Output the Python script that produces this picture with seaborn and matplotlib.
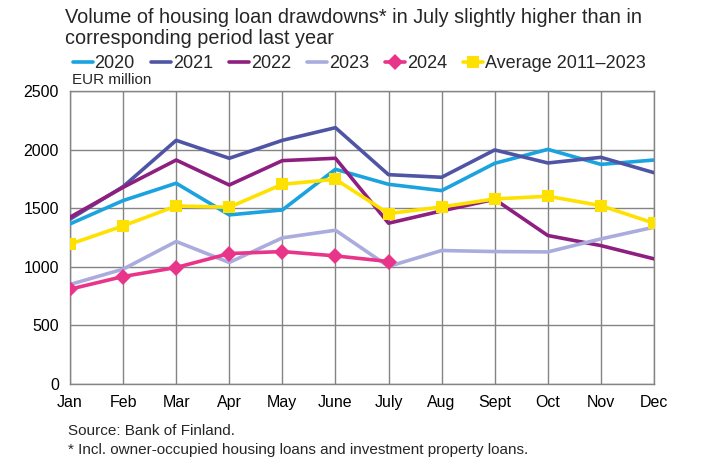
import numpy as np
import pandas as pd
import matplotlib.pyplot as plt
import seaborn as sns

MONTHS = ["Jan", "Feb", "Mar", "Apr", "May", "June", "July", "Aug", "Sept", "Oct", "Nov", "Dec"]

Y2020 = [1366, 1565, 1713, 1443, 1485, 1832, 1704, 1650, 1883, 2002, 1874, 1911]
Y2021 = [1406, 1684, 2079, 1926, 2079, 2187, 1786, 1764, 1997, 1886, 1934, 1803]
Y2022 = [1423, 1678, 1911, 1698, 1906, 1926, 1372, 1477, 1576, 1267, 1181, 1068]
Y2023 = [849, 980, 1216, 1037, 1247, 1312, 1003, 1139, 1130, 1127, 1238, 1338]
Y2024 = [809, 917, 994, 1113, 1130, 1093, 1045]
AVG = [1193, 1349, 1519, 1508, 1704, 1747, 1454, 1511, 1579, 1602, 1522, 1372]

YTICKS = [0, 500, 1000, 1500, 2000, 2500]

sns.set_theme(style="whitegrid")
plt.rcParams["font.family"] = ["Liberation Sans", "DejaVu Sans"]

series = [
    ("2020", Y2020, "#1AA3DF", None, 0),
    ("2021", Y2021, "#4F55A4", None, 0),
    ("2022", Y2022, "#8E1E80", None, 0),
    ("2023", Y2023, "#AAACDD", None, 0),
    ("2024", Y2024, "#E8358A", "D", 8),
    ("Average 2011\u20132023", AVG, "#FFE100", "s", 9),
]

fig = plt.figure(figsize=(7.2, 4.7), dpi=100)
ax = fig.add_axes([70 / 720, 1 - 384 / 470, (654 - 70) / 720, (384 - 91) / 470])

for name, vals, color, marker, ms in series:
    df = pd.DataFrame({"x": np.arange(len(vals)), "y": vals})
    sns.lineplot(data=df, x="x", y="y", ax=ax, color=color, linewidth=2.6,
                 marker=marker, markersize=ms, markeredgewidth=0,
                 label=name, zorder=3)

ax.set_xlim(0, 11)
ax.set_ylim(0, 2500)
ax.set_xticks(range(12))
ax.set_xticklabels(MONTHS, fontsize=11.5)
ax.set_yticks(YTICKS)
ax.set_yticklabels([str(v) for v in YTICKS], fontsize=11.5)
ax.set_xlabel("")
ax.set_ylabel("")
ax.tick_params(axis="both", length=0, pad=8, colors="black")
ax.grid(True, color="#848484", linewidth=1.0)
for s in ax.spines.values():
    s.set_color("#848484")
    s.set_linewidth(1.0)

ax.legend(loc="lower left", bbox_to_anchor=(0.005, 1.065), ncol=6, frameon=False,
          fontsize=13, handlelength=1.1, handletextpad=0.1, columnspacing=0.9,
          borderaxespad=0, borderpad=0)

fig.text(65 / 720, 1 - 28 / 470, "Volume of housing loan drawdowns* in July slightly higher than in\ncorresponding period last year",
         fontsize=14.3, va="center", ha="left", linespacing=1.15)
fig.text(72 / 720, 1 - 80 / 470, "EUR million", fontsize=11, va="center", ha="left")
fig.text(68 / 720, 1 - 431 / 470, "Source: Bank of Finland.", fontsize=11, va="center", ha="left")
fig.text(68 / 720, 1 - 450 / 470, "* Incl. owner-occupied housing loans and investment property loans.",
         fontsize=11, va="center", ha="left")

fig.savefig("out.png", dpi=100)
